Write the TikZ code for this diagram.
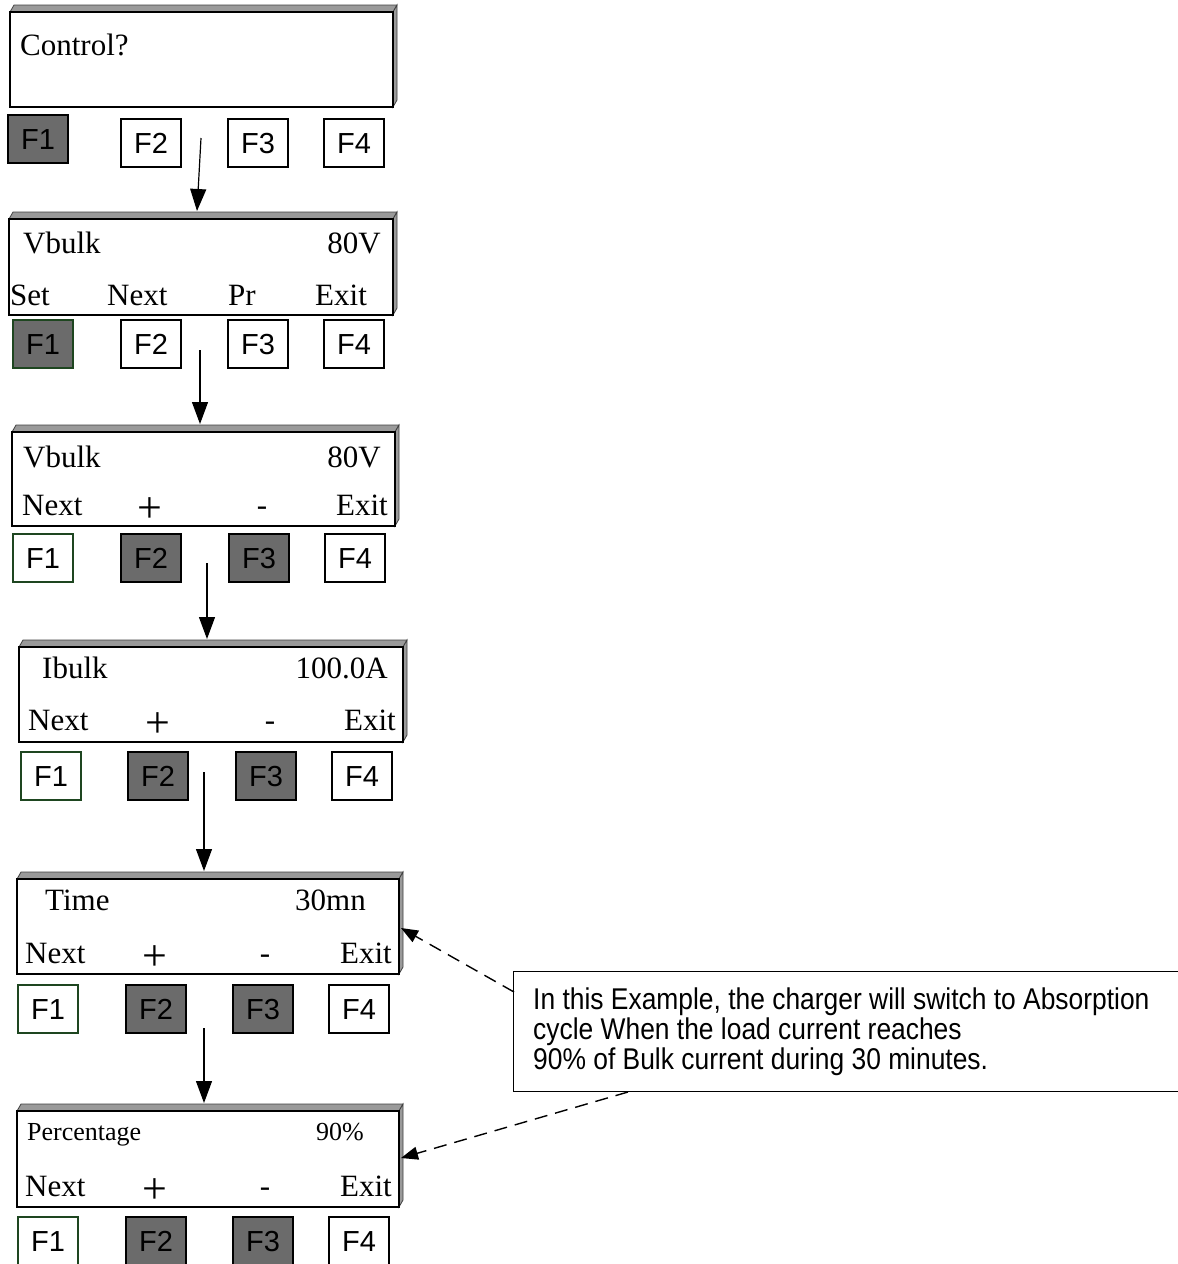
\documentclass[tikz,border=0pt]{standalone}
\usepackage{fontspec}
\setmainfont{Liberation Serif}
\newfontfamily\arialf{Liberation Sans}
\newfontfamily\arialnarrow[FakeStretch=0.88]{Liberation Sans}
\usetikzlibrary{arrows.meta}
\definecolor{btngray}{HTML}{6B6B6B}
\definecolor{bevelgray}{HTML}{9A9A9A}
\definecolor{btngreen}{HTML}{1E4620}
\tikzset{
 lcd/.style={draw=black, line width=1.2pt, fill=white, inner sep=0pt, outer sep=0pt, anchor=north west},
 bev/.style={draw=black!75, line width=0.8pt, fill=bevelgray},
 fkey/.style={draw=black, line width=1.2pt, fill=white, inner sep=0pt, outer sep=0pt, anchor=north west,
   minimum width=60pt, minimum height=48pt, text height=21pt, text depth=0pt,
   font=\arialf\fontsize{29}{32}\selectfont},
 pressed/.style={fill=btngray},
 greenkey/.style={draw=btngreen},
 lcdtxt/.style={inner sep=0pt, font=\fontsize{31}{34}\selectfont},
 plustxt/.style={inner sep=0pt, font=\fontsize{44}{44}\selectfont},
 smalltxt/.style={inner sep=0pt, font=\fontsize{26}{30}\selectfont},
 notetxt/.style={inner sep=0pt, anchor=base west, font=\arialnarrow\fontsize{30}{30}\selectfont},
 flow/.style={-{Triangle[length=22pt,width=16pt]}, line width=1.2pt},
 notearrow/.style={-{Triangle[length=17pt,width=13pt]}, line width=1.4pt, dash pattern=on 13pt off 8pt},
}
\newcommand\lcdpanel[5]{%
  \filldraw[bev] (#2,#3) -- ({#2+4},{#3-7}) -- ({#4+4},{#3-7}) -- (#4,#3) -- cycle;
  \filldraw[bev] (#4,#3) -- ({#4+4},{#3-7}) -- ({#4+4},{#5-7}) -- (#4,#5) -- cycle;
  \node[lcd, minimum width={(#4-#2)*1pt}, minimum height={(#5-#3)*1pt}] (#1) at (#2,#3) {};
}
\begin{document}
\begin{tikzpicture}[x=1pt,y=-1pt]
\useasboundingbox (0,0) rectangle (1178,1264);
\clip (0,0) rectangle (1178,1264);

% ---------- Screen 1
\lcdpanel{s1}{10}{12}{393}{107}
\node[lcdtxt, anchor=base west] (s1a) at (20,55) {Control?};
\node[fkey, pressed] (k11) at (8,115) {F1};
\node[fkey] (k12) at (121,119) {F2};
\node[fkey] (k13) at (228,119) {F3};
\node[fkey] (k14) at (324,119) {F4};

% ---------- Screen 2
\lcdpanel{s2}{9}{219}{393}{315}
\node[lcdtxt, anchor=base west] (s2a) at (23,253) {Vbulk};
\node[lcdtxt, anchor=base east] (s2b) at (381,253) {80V};
\node[lcdtxt, anchor=base west] (s2c) at (10,305) {Set};
\node[lcdtxt, anchor=base west] (s2d) at (107,305) {Next};
\node[lcdtxt, anchor=base west] (s2e) at (228,305) {Pr};
\node[lcdtxt, anchor=base west] (s2f) at (315,305) {Exit};
\node[fkey, pressed, greenkey] (k21) at (13,320) {F1};
\node[fkey] (k22) at (121,320) {F2};
\node[fkey] (k23) at (228,320) {F3};
\node[fkey] (k24) at (324,320) {F4};

% ---------- Screen 3
\lcdpanel{s3}{12}{432}{395}{526}
\node[lcdtxt, anchor=base west] (s3a) at (23,467) {Vbulk};
\node[lcdtxt, anchor=base east] (s3b) at (381,467) {80V};
\node[lcdtxt, anchor=base west] (s3c) at (22,515) {Next};
\node[plustxt, anchor=base] (s3d) at (150,522) {+};
\node[lcdtxt, anchor=base] (s3e) at (262,515) {-};
\node[lcdtxt, anchor=base east] (s3f) at (388,515) {Exit};
\node[fkey, greenkey] (k31) at (13,534) {F1};
\node[fkey, pressed] (k32) at (121,534) {F2};
\node[fkey, pressed] (k33) at (229,534) {F3};
\node[fkey] (k34) at (325,534) {F4};

% ---------- Screen 4
\lcdpanel{s4}{19}{647}{403}{742}
\node[lcdtxt, anchor=base west] (s4a) at (42,678) {Ibulk};
\node[lcdtxt, anchor=base east] (s4b) at (388,678) {100.0A};
\node[lcdtxt, anchor=base west] (s4c) at (28,730) {Next};
\node[plustxt, anchor=base] (s4d) at (158,737) {+};
\node[lcdtxt, anchor=base] (s4e) at (270,730) {-};
\node[lcdtxt, anchor=base east] (s4f) at (396,730) {Exit};
\node[fkey, greenkey] (k41) at (21,752) {F1};
\node[fkey, pressed] (k42) at (128,752) {F2};
\node[fkey, pressed] (k43) at (236,752) {F3};
\node[fkey] (k44) at (332,752) {F4};

% ---------- Screen 5
\lcdpanel{s5}{17}{879}{399}{974}
\node[lcdtxt, anchor=base west] (s5a) at (45,910) {Time};
\node[lcdtxt, anchor=base east] (s5b) at (366,910) {30mn};
\node[lcdtxt, anchor=base west] (s5c) at (25,963) {Next};
\node[plustxt, anchor=base] (s5d) at (155,970) {+};
\node[lcdtxt, anchor=base] (s5e) at (265,963) {-};
\node[lcdtxt, anchor=base east] (s5f) at (392,963) {Exit};
\node[fkey, greenkey] (k51) at (18,985) {F1};
\node[fkey, pressed] (k52) at (126,985) {F2};
\node[fkey, pressed] (k53) at (233,985) {F3};
\node[fkey] (k54) at (329,985) {F4};

% ---------- Screen 6
\lcdpanel{s6}{17}{1111}{399}{1207}
\node[smalltxt, anchor=base west] (s6a) at (27,1140) {Percentage};
\node[smalltxt, anchor=base east] (s6b) at (364,1140) {90\%};
\node[lcdtxt, anchor=base west] (s6c) at (25,1196) {Next};
\node[plustxt, anchor=base] (s6d) at (155,1203) {+};
\node[lcdtxt, anchor=base] (s6e) at (265,1196) {-};
\node[lcdtxt, anchor=base east] (s6f) at (392,1196) {Exit};
\node[fkey, greenkey] (k61) at (18,1217) {F1};
\node[fkey, pressed] (k62) at (126,1217) {F2};
\node[fkey, pressed] (k63) at (233,1217) {F3};
\node[fkey] (k64) at (329,1217) {F4};

% ---------- flow arrows
\coordinate (a1s) at (201,138); \coordinate (a1e) at (197,211);
\coordinate (a2s) at (200,350); \coordinate (a2e) at (200,424);
\coordinate (a3s) at (207,563); \coordinate (a3e) at (207,639);
\coordinate (a4s) at (204,772); \coordinate (a4e) at (204,871);
\coordinate (a5s) at (204,1028); \coordinate (a5e) at (204,1103);
\draw[flow] (a1s) -- (a1e);
\draw[flow] (a2s) -- (a2e);
\draw[flow] (a3s) -- (a3e);
\draw[flow] (a4s) -- (a4e);
\draw[flow] (a5s) -- (a5e);

% ---------- note
\node[draw=black, line width=1pt, fill=white, inner sep=0pt, anchor=north west,
      minimum width=720pt, minimum height=120pt] (note) at (513,971) {};
\node[notetxt] (n1) at (533,1009) {In this Example, the charger will switch to Absorption};
\node[notetxt] (n2) at (533,1039) {cycle When the load current reaches};
\node[notetxt] (n3) at (533,1069) {90\% of Bulk current during 30 minutes.};
\coordinate (d1s) at (514,992); \coordinate (d1e) at (401,928);
\coordinate (d2s) at (628,1092); \coordinate (d2e) at (401,1158);
\draw[notearrow] (d1s) -- (d1e);
\draw[notearrow] (d2s) -- (d2e);
\end{tikzpicture}
\end{document}
